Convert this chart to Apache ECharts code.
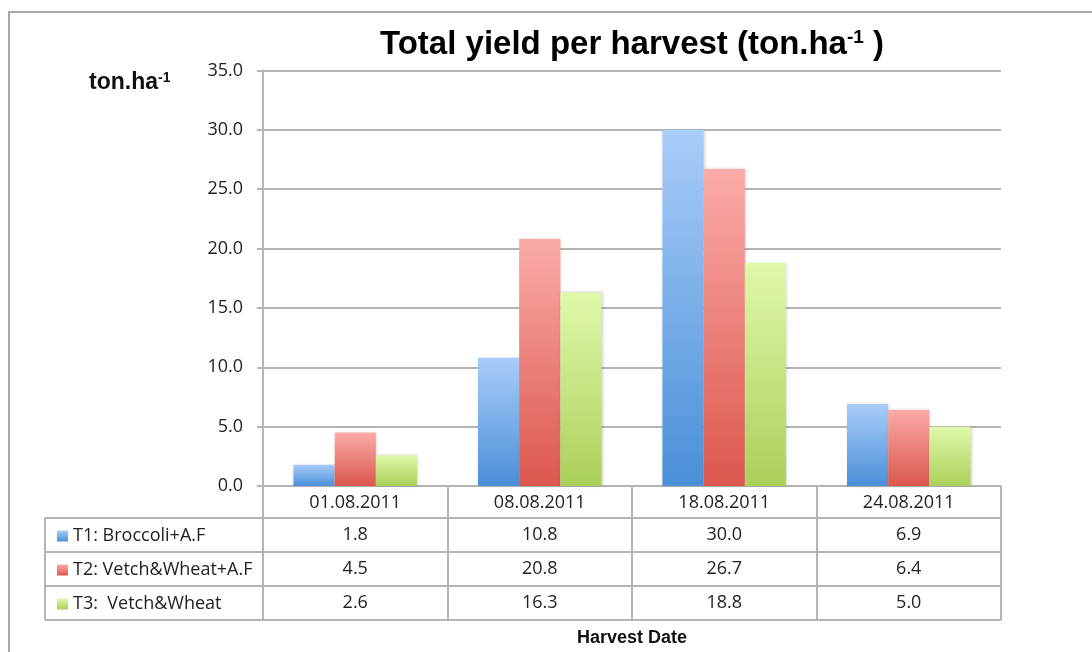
<!DOCTYPE html>
<html>
<head>
<meta charset="utf-8">
<script src="https://cdn.jsdelivr.net/npm/echarts@6/dist/echarts.min.js"></script>
<style>
html,body{margin:0;padding:0;background:#fff;}
#chart{width:1092px;height:652px;}
</style>
</head>
<body>
<div id="chart"></div>
<script>
// ---- data ----
const categories = ['01.08.2011', '08.08.2011', '18.08.2011', '24.08.2011'];
const seriesNames = ['T1: Broccoli+A.F', 'T2: Vetch&Wheat+A.F', 'T3:  Vetch&Wheat'];
const t1Values = [1.8, 10.8, 30.0, 6.9];
const t2Values = [4.5, 20.8, 26.7, 6.4];
const t3Values = [2.6, 16.3, 18.8, 5.0];
const yTicks = [0, 5, 10, 15, 20, 25, 30, 35];
const titleText = 'Total yield per harvest (ton.ha{sup|-1} )';
const yUnitText = 'ton.ha{sup|-1}';
const xAxisTitle = 'Harvest Date';

// ---- layout / style ----
const FONT = 'Open Sans';
const gridLeft = 263, gridRight = 1001, gridTop = 70.5, gridBottom = 486;
const headerH = 32, rowH = 34;
const lineColor = '#b4b4b4';
const gradients = [
  ['#a9cdf9', '#4a8fd8'],
  ['#fbaba7', '#dc574d'],
  ['#e0f8aa', '#abd05a']
];
function grad(c) {
  return new echarts.graphic.LinearGradient(0, 0, 0, 1, [
    { offset: 0, color: c[0] }, { offset: 1, color: c[1] }
  ]);
}
const allValues = [t1Values, t2Values, t3Values];
const fmt = v => v.toFixed(1);

const chart = echarts.init(document.getElementById('chart'), null, { renderer: 'canvas' });

const rowCenter = i => headerH + rowH * i + rowH / 2; // i = 0..2 (distance below axis)
const xAxes = [{
  type: 'category',
  data: categories,
  position: 'bottom',
  axisLine: { show: true, lineStyle: { color: lineColor, width: 2 } },
  axisTick: { show: true, length: headerH + rowH * 3, lineStyle: { color: lineColor, width: 2 } },
  axisLabel: { margin: headerH / 2 + 1, verticalAlign: 'middle', fontFamily: FONT, fontSize: 18, color: '#222' },
  splitLine: { show: false }
}];
allValues.forEach((vals, i) => {
  xAxes.push({
    type: 'category',
    data: vals.map(fmt),
    position: 'bottom',
    axisLine: { show: false },
    axisTick: { show: false },
    axisLabel: { margin: rowCenter(i), verticalAlign: 'middle', fontFamily: FONT, fontSize: 18, color: '#222' },
    splitLine: { show: false }
  });
});

// table horizontal lines + legend column border
const tableLeft = 45;
const graphics = [
  { type: 'rect', shape: { x: 9, y: 12, width: 1200, height: 800 }, style: { fill: 'none', stroke: '#a8a8a8', lineWidth: 2 }, silent: true, z: 0 }
];
for (let k = 0; k <= 3; k++) {
  const y = gridBottom + headerH + rowH * k;
  graphics.push({ type: 'line', shape: { x1: tableLeft, y1: y, x2: gridRight, y2: y }, style: { stroke: lineColor, lineWidth: 2 }, z: 10 });
}
graphics.push({ type: 'line', shape: { x1: tableLeft, y1: gridBottom + headerH, x2: tableLeft, y2: gridBottom + headerH + rowH * 3 }, style: { stroke: lineColor, lineWidth: 2 }, z: 10 });
graphics.push({
  type: 'text', x: (gridLeft + gridRight) / 2, y: 45, z: 20,
  style: {
    text: titleText, align: 'center', verticalAlign: 'middle',
    fontFamily: 'Liberation Sans', fontWeight: 'bold', fontSize: 33, fill: '#000',
    rich: { sup: { fontFamily: 'Liberation Sans', fontWeight: 'bold', fontSize: 19, verticalAlign: 'top', fill: '#000' } }
  }
});
graphics.push({
  type: 'text', x: 89, y: 83, z: 20,
  style: {
    text: yUnitText, align: 'left', verticalAlign: 'middle',
    fontFamily: 'Liberation Sans', fontWeight: 'bold', fontSize: 23, fill: '#111',
    rich: { sup: { fontFamily: 'Liberation Sans', fontWeight: 'bold', fontSize: 14, verticalAlign: 'top', fill: '#111' } }
  }
});
graphics.push({
  type: 'text', x: (gridLeft + gridRight) / 2, y: 638, z: 20,
  style: { text: xAxisTitle, align: 'center', verticalAlign: 'middle', fontFamily: 'Liberation Sans', fontWeight: 'bold', fontSize: 18, fill: '#111' }
});

const option = {
  animation: false,
  backgroundColor: '#fff',
  grid: { left: gridLeft, right: 1092 - gridRight, top: gridTop, bottom: 652 - gridBottom, containLabel: false },
  legend: {
    orient: 'vertical', left: 52, top: gridBottom + headerH + rowH / 2 - 14,
    itemWidth: 11, itemHeight: 11, itemGap: rowH - 20, icon: 'rect',
    textStyle: { fontFamily: FONT, fontSize: 18, lineHeight: 20, color: '#222' },
    data: seriesNames, selectedMode: false
  },
  xAxis: xAxes,
  yAxis: {
    type: 'value', min: yTicks[0], max: yTicks[yTicks.length - 1], interval: yTicks[1] - yTicks[0],
    axisLine: { show: true, lineStyle: { color: lineColor, width: 2 } },
    axisTick: { show: true, length: 6, lineStyle: { color: lineColor, width: 2 } },
    axisLabel: { formatter: v => v.toFixed(1), margin: 20, fontFamily: FONT, fontSize: 18, color: '#222' },
    splitLine: { show: true, lineStyle: { color: lineColor, width: 2 } }
  },
  series: allValues.map((vals, i) => ({
    name: seriesNames[i], type: 'bar', xAxisIndex: 0, yAxisIndex: 0,
    data: vals, barGap: '0%', barCategoryGap: '33%',
    itemStyle: { color: grad(gradients[i]), shadowBlur: 3, shadowColor: 'rgba(0,0,0,0.18)', shadowOffsetX: 1, shadowOffsetY: 0 },
    z: 5
  })),
  graphic: graphics
};
chart.setOption(option);
</script>
</body>
</html>
